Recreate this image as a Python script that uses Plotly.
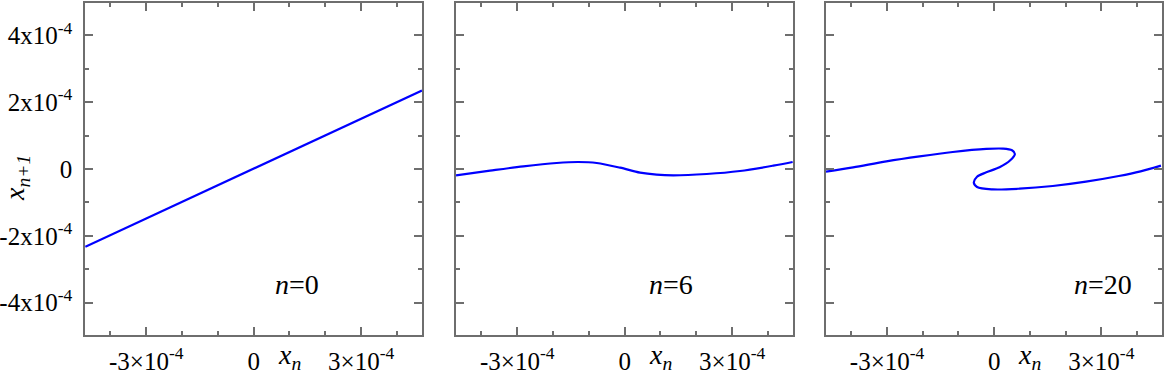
import plotly.graph_objects as go

# values in units of 1e-4
xn_0 = [-4.7, 4.7]
xn1_0 = [-2.33, 2.35]

xn_6 = [-4.71, -3.76, -2.83, -1.90, -1.30, -0.78, -0.13, 0.43, 0.89, 1.36, 2.29, 3.22, 4.15, 4.69]
xn1_6 = [-0.19, -0.05, 0.08, 0.18, 0.21, 0.18, 0.04, -0.11, -0.17, -0.19, -0.15, -0.06, 0.10, 0.21]

xn_20 = [-4.71, -3.95, -3.02, -2.09, -1.16, -0.22, 0.24, 0.50, 0.58, 0.45, 0.15, -0.22, -0.48,
         -0.57, -0.48, -0.04, 0.71, 1.64, 2.57, 3.49, 4.10, 4.67]
xn1_20 = [-0.08, 0.05, 0.23, 0.38, 0.51, 0.60, 0.61, 0.56, 0.45, 0.26, 0.05, -0.10, -0.23,
          -0.41, -0.54, -0.61, -0.59, -0.51, -0.38, -0.21, -0.07, 0.10]

panels = [(xn_0, xn1_0, "0"), (xn_6, xn1_6, "6"), (xn_20, xn1_20, "20")]
label_x = [1.21, 1.29, 3.05]

x_tickvals = [-3, 0, 3]
x_ticktext = ["-3×10<sup>-4</sup>", "0", "3×10<sup>-4</sup>"]
y_tickvals = [-4, -2, 0, 2, 4]
y_ticktext = ["-4x10<sup>-4</sup>", "-2x10<sup>-4</sup>", "0", "2x10<sup>-4</sup>", "4x10<sup>-4</sup>"]

W, H = 1166, 375
domains = [(85, 422), (456, 793), (826, 1162)]
serif = "Liberation Serif"
axcol = "#6e6e6e"

fig = go.Figure()

common = dict(
    showline=True, linecolor=axcol, linewidth=1.5, mirror="allticks",
    ticks="inside", ticklen=8, tickwidth=1.5, tickcolor=axcol,
    showgrid=False, zeroline=False,
    minor=dict(ticks="inside", ticklen=4, tickwidth=1.5, tickcolor=axcol,
               tickmode="linear", tick0=0, dtick=1),
    tickfont=dict(family=serif, size=25, color="black"),
)

for i, (xs, ys, n) in enumerate(panels):
    k = "" if i == 0 else str(i + 1)
    fig.add_trace(go.Scatter(
        x=xs, y=ys, mode="lines", line=dict(color="#0000ff", width=2.2, shape="spline", smoothing=0.9),
        xaxis="x" + k, yaxis="y" + k, showlegend=False, hoverinfo="skip",
    ))
    x0, x1 = domains[i]
    fig.update_layout(**{
        "xaxis" + k: dict(common, domain=[x0 / W, x1 / W], range=[-4.71, 4.7],
                          tickmode="array", tickvals=x_tickvals, ticktext=x_ticktext,
                          anchor="y" + k, ticklabelstandoff=3),
        "yaxis" + k: dict(common, domain=[40 / H, 372 / H], range=[-4.97, 4.97],
                          tickmode="array", tickvals=y_tickvals, ticktext=y_ticktext,
                          anchor="x" + k, showticklabels=(i == 0), ticklabelstandoff=6),
    })
    fig.add_annotation(x=label_x[i], y=-3.45, xref="x" + k, yref="y" + k,
                       text="<i>n</i>=" + n, showarrow=False,
                       font=dict(family=serif, size=28, color="black"))
    fig.add_annotation(x=1.0, y=(H - 356) / H, xref="x" + k, yref="paper",
                       xanchor="center", yanchor="middle",
                       text="<i>x</i><sub><i>n</i></sub>", showarrow=False,
                       font=dict(family=serif, size=28, color="black"))

fig.add_annotation(x=16 / W, y=(H - 178) / H, xref="paper", yref="paper",
                   xanchor="center", yanchor="middle",
                   text="<i>x</i><sub><i>n+1</i></sub>", textangle=-90, showarrow=False,
                   font=dict(family=serif, size=28, color="black"))

fig.update_layout(
    width=W, height=H,
    margin=dict(l=0, r=0, t=0, b=0),
    paper_bgcolor="white", plot_bgcolor="white",
)

# drop the default page margin so the figure fills the window
fig.write_html("out.html", config={"displayModeBar": False},
               post_script="document.body.style.margin='0';")
